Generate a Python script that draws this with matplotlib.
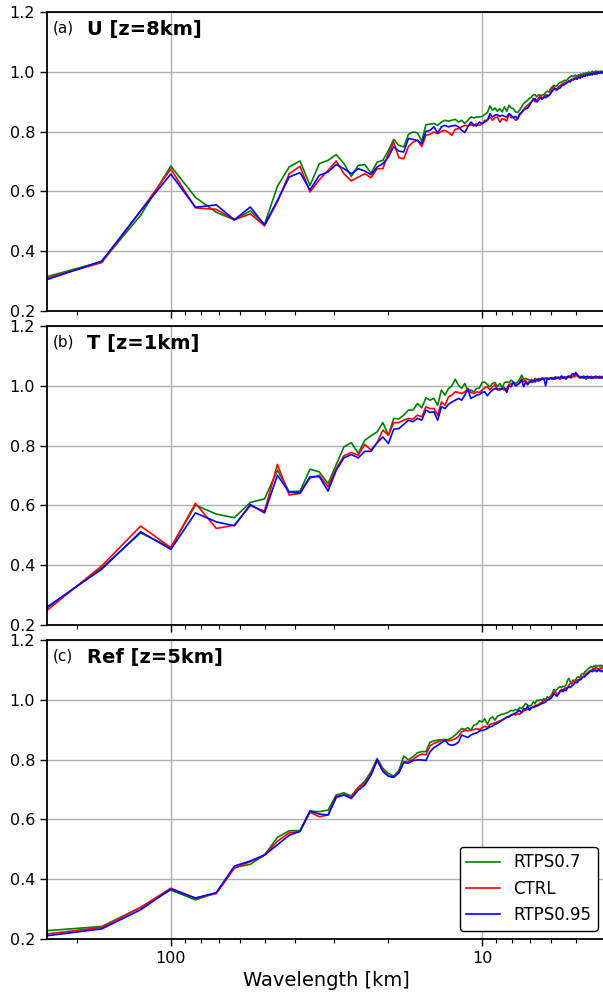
import numpy as np
import matplotlib
matplotlib.use("Agg")
import matplotlib.pyplot as plt
from matplotlib.ticker import FixedLocator, FixedFormatter, LogLocator, NullFormatter

# Spectral ratio versus wavelength, wavenumbers 2..125 in a 500 km domain
DOMAIN_KM = 500.0
wavenumber = np.arange(2, 126)
wavelength = DOMAIN_KM / wavenumber

# ---- (a) U at z=8km ----
u_rtps07 = [
    0.315, 0.365, 0.52, 0.685, 0.58, 0.53, 0.505, 0.535, 0.49,
    0.617, 0.682, 0.702, 0.62, 0.693, 0.704, 0.723, 0.693, 0.65, 0.687,
    0.69, 0.661, 0.698, 0.704, 0.737, 0.774, 0.754, 0.749, 0.791, 0.799,
    0.796, 0.768, 0.823, 0.825, 0.827, 0.821, 0.832, 0.838, 0.835, 0.838,
    0.841, 0.832, 0.838, 0.827, 0.838, 0.849, 0.846, 0.849, 0.849, 0.851,
    0.857, 0.864, 0.886, 0.872, 0.879, 0.868, 0.877, 0.866, 0.883, 0.868,
    0.888, 0.879, 0.877, 0.866, 0.864, 0.872, 0.883, 0.894, 0.899, 0.905,
    0.911, 0.916, 0.922, 0.924, 0.916, 0.924, 0.92, 0.922, 0.924, 0.931,
    0.935, 0.933, 0.944, 0.95, 0.955, 0.952, 0.953, 0.961, 0.964, 0.966,
    0.969, 0.972, 0.969, 0.975, 0.98, 0.983, 0.987, 0.983, 0.987, 0.989,
    0.985, 0.99, 0.988, 0.993, 0.99, 0.995, 0.992, 0.997, 0.995, 1.0,
    0.996, 0.998, 1.002, 0.999, 1.0, 1.003, 1.0, 1.002, 0.998, 1.003,
    1.0, 1.001, 1.0, 1.002, 1.0,
]
u_ctrl = [
    0.31, 0.362, 0.535, 0.675, 0.545, 0.54, 0.505, 0.525, 0.485,
    0.565, 0.659, 0.684, 0.598, 0.639, 0.67, 0.702, 0.659, 0.635, 0.648,
    0.659, 0.646, 0.676, 0.676, 0.726, 0.765, 0.713, 0.709, 0.75, 0.765,
    0.771, 0.75, 0.788, 0.791, 0.799, 0.793, 0.801, 0.804, 0.797, 0.788,
    0.808, 0.81, 0.816, 0.821, 0.819, 0.823, 0.819, 0.827, 0.821, 0.825,
    0.838, 0.838, 0.849, 0.838, 0.846, 0.849, 0.832, 0.843, 0.841, 0.835,
    0.86, 0.846, 0.849, 0.838, 0.841, 0.855, 0.863, 0.874, 0.883, 0.888,
    0.894, 0.899, 0.911, 0.899, 0.905, 0.913, 0.922, 0.911, 0.916, 0.924,
    0.916, 0.922, 0.931, 0.944, 0.95, 0.939, 0.944, 0.95, 0.953, 0.958,
    0.961, 0.964, 0.961, 0.966, 0.969, 0.972, 0.975, 0.972, 0.978, 0.983,
    0.98, 0.985, 0.978, 0.988, 0.983, 0.99, 0.985, 0.992, 0.988, 0.993,
    0.99, 0.995, 0.99, 0.998, 0.993, 0.996, 0.992, 0.998, 0.995, 1.0,
    0.994, 0.999, 0.996, 1.0, 0.998,
]
u_rtps095 = [
    0.305, 0.367, 0.535, 0.658, 0.547, 0.555, 0.505, 0.548, 0.488,
    0.57, 0.648, 0.663, 0.605, 0.654, 0.665, 0.69, 0.676, 0.659, 0.676,
    0.668, 0.656, 0.682, 0.693, 0.715, 0.75, 0.735, 0.732, 0.777, 0.774,
    0.771, 0.759, 0.801, 0.804, 0.816, 0.795, 0.816, 0.821, 0.816, 0.819,
    0.821, 0.816, 0.804, 0.797, 0.816, 0.832, 0.823, 0.819, 0.832, 0.827,
    0.832, 0.838, 0.86, 0.849, 0.855, 0.857, 0.851, 0.855, 0.851, 0.849,
    0.86, 0.855, 0.846, 0.851, 0.843, 0.86, 0.864, 0.872, 0.877, 0.879,
    0.888, 0.899, 0.905, 0.911, 0.899, 0.905, 0.913, 0.908, 0.916, 0.913,
    0.922, 0.92, 0.927, 0.935, 0.942, 0.944, 0.939, 0.944, 0.946, 0.953,
    0.955, 0.958, 0.961, 0.964, 0.969, 0.966, 0.972, 0.975, 0.975, 0.978,
    0.975, 0.982, 0.98, 0.986, 0.982, 0.988, 0.985, 0.99, 0.987, 0.992,
    0.989, 0.994, 0.99, 0.996, 0.992, 0.997, 0.994, 0.998, 0.995, 0.999,
    0.996, 1.0, 0.997, 0.999, 0.998,
]

# ---- (b) T at z=1km ----
t_rtps07 = [
    0.257, 0.391, 0.508, 0.459, 0.601, 0.571, 0.559, 0.61, 0.622,
    0.718, 0.646, 0.648, 0.721, 0.712, 0.673, 0.737, 0.796, 0.81, 0.774,
    0.818, 0.833, 0.846, 0.877, 0.835, 0.891, 0.889, 0.902, 0.919, 0.919,
    0.941, 0.926, 0.96, 0.952, 0.958, 0.935, 0.986, 0.969, 0.991, 1.0,
    1.022, 1.002, 0.991, 1.008, 0.982, 0.986, 0.98, 0.991, 0.993, 1.011,
    1.013, 1.004, 0.997, 1.008, 1.011, 0.997, 1.008, 0.993, 1.011, 1.013,
    1.011, 1.019, 1.013, 1.008, 1.013, 1.022, 1.036, 1.022, 1.025, 1.022,
    1.019, 1.011, 1.013, 1.022, 1.019, 1.025, 1.022, 1.027, 1.022, 1.025,
    1.025, 1.022, 1.027, 1.025, 1.027, 1.025, 1.029, 1.027, 1.025, 1.029,
    1.027, 1.03, 1.027, 1.031, 1.029, 1.033, 1.03, 1.033, 1.03, 1.033,
    1.036, 1.031, 1.028, 1.03, 1.027, 1.031, 1.025, 1.022, 1.028, 1.026,
    1.03, 1.027, 1.029, 1.025, 1.03, 1.027, 1.031, 1.028, 1.026, 1.03,
    1.027, 1.029, 1.026, 1.028, 1.027,
]
t_ctrl = [
    0.249, 0.398, 0.531, 0.459, 0.607, 0.523, 0.534, 0.599, 0.581,
    0.737, 0.635, 0.64, 0.692, 0.701, 0.662, 0.724, 0.766, 0.777, 0.768,
    0.804, 0.785, 0.81, 0.852, 0.835, 0.877, 0.877, 0.885, 0.891, 0.889,
    0.902, 0.896, 0.93, 0.924, 0.924, 0.902, 0.946, 0.935, 0.963, 0.969,
    0.98, 0.978, 0.974, 0.98, 0.991, 0.978, 0.974, 0.98, 0.978, 0.986,
    0.993, 0.997, 0.986, 0.997, 1.004, 0.986, 0.991, 0.989, 0.986, 0.991,
    1.004, 1.008, 1.008, 1.002, 1.004, 1.008, 1.025, 1.013, 1.019, 1.008,
    1.016, 1.022, 1.013, 1.025, 1.016, 1.022, 1.019, 1.025, 1.022, 1.027,
    1.022, 1.025, 1.025, 1.022, 1.027, 1.022, 1.027, 1.025, 1.022, 1.027,
    1.03, 1.025, 1.029, 1.027, 1.03, 1.031, 1.027, 1.033, 1.03, 1.036,
    1.033, 1.029, 1.026, 1.031, 1.028, 1.033, 1.027, 1.03, 1.025, 1.031,
    1.028, 1.032, 1.026, 1.03, 1.028, 1.033, 1.027, 1.03, 1.025, 1.031,
    1.028, 1.032, 1.027, 1.03, 1.029,
]
t_rtps095 = [
    0.26, 0.387, 0.512, 0.453, 0.575, 0.545, 0.532, 0.603, 0.575,
    0.701, 0.644, 0.642, 0.696, 0.696, 0.648, 0.718, 0.759, 0.77, 0.759,
    0.781, 0.781, 0.81, 0.829, 0.807, 0.855, 0.857, 0.871, 0.885, 0.88,
    0.891, 0.885, 0.919, 0.911, 0.913, 0.885, 0.93, 0.924, 0.938, 0.946,
    0.952, 0.958, 0.952, 0.969, 0.989, 0.958, 0.963, 0.969, 0.971, 0.978,
    0.98, 0.967, 0.978, 0.986, 0.991, 0.989, 0.986, 0.991, 0.993, 0.978,
    1.0, 0.997, 1.013, 1.0, 1.004, 1.011, 1.019, 0.997, 1.013, 1.004,
    1.011, 1.016, 1.019, 1.013, 1.022, 1.016, 1.022, 1.022, 1.025, 1.0,
    1.025, 1.022, 1.027, 1.025, 1.022, 1.03, 1.025, 1.029, 1.027, 1.033,
    1.025, 1.029, 1.022, 1.03, 1.033, 1.027, 1.038, 1.041, 1.036, 1.045,
    1.038, 1.033, 1.03, 1.027, 1.031, 1.026, 1.03, 1.028, 1.032, 1.027,
    1.03, 1.025, 1.029, 1.027, 1.031, 1.026, 1.03, 1.028, 1.032, 1.027,
    1.029, 1.026, 1.03, 1.028, 1.029,
]

# ---- (c) Reflectivity at z=5km ----
ref_rtps07 = [
    0.228, 0.242, 0.306, 0.364, 0.331, 0.355, 0.439, 0.45, 0.481,
    0.54, 0.562, 0.563, 0.628, 0.626, 0.631, 0.682, 0.689, 0.678, 0.707,
    0.728, 0.76, 0.804, 0.771, 0.754, 0.745, 0.763, 0.812, 0.799, 0.81,
    0.823, 0.827, 0.827, 0.858, 0.863, 0.865, 0.867, 0.867, 0.867, 0.874,
    0.882, 0.893, 0.904, 0.901, 0.907, 0.898, 0.915, 0.918, 0.93, 0.926,
    0.937, 0.918, 0.937, 0.943, 0.932, 0.945, 0.949, 0.952, 0.954, 0.956,
    0.96, 0.965, 0.963, 0.968, 0.965, 0.974, 0.971, 0.979, 0.988, 0.982,
    0.979, 0.982, 0.993, 0.988, 0.999, 0.997, 1.001, 0.999, 1.004, 1.001,
    1.01, 1.008, 1.012, 1.021, 1.035, 1.03, 1.035, 1.041, 1.044, 1.041,
    1.046, 1.044, 1.049, 1.064, 1.072, 1.06, 1.057, 1.066, 1.064, 1.068,
    1.075, 1.077, 1.075, 1.083, 1.088, 1.086, 1.094, 1.097, 1.102, 1.105,
    1.108, 1.111, 1.108, 1.113, 1.111, 1.115, 1.113, 1.115, 1.113, 1.116,
    1.112, 1.115, 1.11, 1.113, 1.11,
]
ref_ctrl = [
    0.217, 0.239, 0.306, 0.37, 0.337, 0.352, 0.437, 0.459, 0.481,
    0.527, 0.555, 0.56, 0.624, 0.609, 0.615, 0.673, 0.682, 0.676, 0.707,
    0.721, 0.752, 0.797, 0.765, 0.745, 0.741, 0.756, 0.793, 0.793, 0.801,
    0.812, 0.819, 0.816, 0.846, 0.854, 0.859, 0.863, 0.865, 0.863, 0.865,
    0.87, 0.878, 0.893, 0.898, 0.896, 0.9, 0.9, 0.904, 0.9, 0.907,
    0.912, 0.907, 0.918, 0.921, 0.923, 0.926, 0.93, 0.932, 0.937, 0.943,
    0.945, 0.949, 0.952, 0.949, 0.954, 0.952, 0.96, 0.963, 0.965, 0.968,
    0.971, 0.974, 0.977, 0.982, 0.982, 0.985, 0.99, 0.993, 0.997, 0.999,
    1.001, 1.004, 1.008, 1.016, 1.023, 1.027, 1.019, 1.023, 1.03, 1.035,
    1.032, 1.039, 1.039, 1.041, 1.049, 1.055, 1.053, 1.06, 1.064, 1.066,
    1.064, 1.068, 1.066, 1.075, 1.077, 1.079, 1.083, 1.088, 1.09, 1.094,
    1.097, 1.099, 1.101, 1.105, 1.101, 1.108, 1.105, 1.105, 1.101, 1.108,
    1.104, 1.107, 1.103, 1.106, 1.104,
]
ref_rtps095 = [
    0.211, 0.234, 0.298, 0.367, 0.337, 0.355, 0.444, 0.461, 0.481,
    0.515, 0.547, 0.56, 0.628, 0.618, 0.615, 0.676, 0.682, 0.67, 0.698,
    0.715, 0.749, 0.799, 0.76, 0.745, 0.741, 0.756, 0.79, 0.788, 0.797,
    0.799, 0.799, 0.797, 0.826, 0.84, 0.848, 0.856, 0.865, 0.851, 0.848,
    0.851, 0.859, 0.882, 0.878, 0.874, 0.882, 0.887, 0.889, 0.896, 0.898,
    0.9, 0.904, 0.91, 0.912, 0.918, 0.921, 0.926, 0.932, 0.937, 0.941,
    0.943, 0.949, 0.952, 0.956, 0.96, 0.965, 0.956, 0.971, 0.968, 0.979,
    0.965, 0.974, 0.974, 0.977, 0.979, 0.982, 0.985, 0.988, 0.99, 0.993,
    0.999, 1.001, 1.004, 1.01, 1.021, 1.016, 1.012, 1.019, 1.027, 1.032,
    1.027, 1.035, 1.03, 1.039, 1.044, 1.041, 1.046, 1.049, 1.055, 1.06,
    1.057, 1.064, 1.068, 1.068, 1.075, 1.077, 1.077, 1.083, 1.086, 1.09,
    1.094, 1.097, 1.094, 1.099, 1.097, 1.099, 1.094, 1.101, 1.097, 1.099,
    1.094, 1.097, 1.093, 1.095, 1.092,
]

series_labels = ["RTPS0.7", "CTRL", "RTPS0.95"]
series_colors = ["green", "red", "blue"]

panels = [
    ("(a)", "U [z=8km]", [u_rtps07, u_ctrl, u_rtps095]),
    ("(b)", "T [z=1km]", [t_rtps07, t_ctrl, t_rtps095]),
    ("(c)", "Ref [z=5km]", [ref_rtps07, ref_ctrl, ref_rtps095]),
]

x_ticks = [100, 10]
x_tick_labels = ["100", "10"]
y_ticks = [0.2, 0.4, 0.6, 0.8, 1.0, 1.2]

fig = plt.figure(figsize=(6.03, 9.94), dpi=100)
axes_left, axes_width, axes_height = 0.0779, 0.927, 0.3008
axes_bottoms = [0.6871, 0.3712, 0.0553]

for i, (tag, title, series) in enumerate(panels):
    ax = fig.add_axes([axes_left, axes_bottoms[i], axes_width, axes_height])
    for values, lab, col in zip(series, series_labels, series_colors):
        ax.plot(wavelength, values, color=col, lw=1.2, label=lab)

    ax.set_xscale("log")
    ax.set_xlim(250, 4)
    ax.set_ylim(0.2, 1.2)
    ax.xaxis.set_major_locator(FixedLocator(x_ticks))
    ax.xaxis.set_minor_locator(LogLocator(base=10, subs=np.arange(2, 10)))
    ax.xaxis.set_minor_formatter(NullFormatter())
    if i == len(panels) - 1:
        ax.xaxis.set_major_formatter(FixedFormatter(x_tick_labels))
        ax.set_xlabel("Wavelength [km]", fontsize=14)
    else:
        ax.xaxis.set_major_formatter(NullFormatter())
    ax.set_yticks(y_ticks)
    ax.set_yticklabels([f"{v:.1f}" for v in y_ticks])
    ax.tick_params(axis="both", which="major", labelsize=11.5, direction="out",
                   length=5, width=1.0)
    ax.tick_params(axis="x", which="minor", direction="out", length=3, width=0.8)
    ax.grid(True, which="major", color="#b0b0b0", lw=1.0)
    for sp in ax.spines.values():
        sp.set_linewidth(1.3)
        sp.set_color("black")

    ax.text(0.01, 0.973, tag, transform=ax.transAxes, fontsize=11, va="top", ha="left")
    ax.text(0.0715, 0.973, title, transform=ax.transAxes, fontsize=14,
            fontweight="bold", va="top", ha="left")

    if i == len(panels) - 1:
        leg = ax.legend(loc="lower right", fontsize=12, framealpha=1.0, fancybox=True)
        leg.get_frame().set_edgecolor("black")
        leg.get_frame().set_linewidth(1.0)

fig.savefig("out.png", dpi=100)
